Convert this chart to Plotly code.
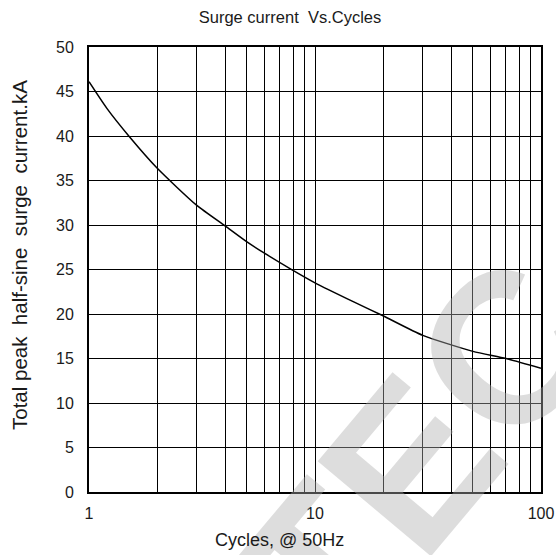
import plotly.graph_objects as go

cycles = [1, 1.2, 1.5, 2, 3, 4, 5, 6, 7.75, 10, 15, 20, 30, 50, 70, 100]
surge_ka = [46.1, 43.1, 40.0, 36.4, 32.2, 29.9, 28.1, 26.8, 25.1, 23.5, 21.3, 19.8, 17.6, 15.8, 15.0, 13.9]

x_grid_vals = [1, 2, 3, 4, 5, 6, 7, 8, 9, 10, 20, 30, 40, 50, 60, 70, 80, 90, 100]
x_grid_text = ["1", "", "", "", "", "", "", "", "", "10", "", "", "", "", "", "", "", "", "100"]
y_ticks = [0, 5, 10, 15, 20, 25, 30, 35, 40, 45, 50]

title_text = "Surge current  Vs.Cycles"
x_title = "Cycles, @ 50Hz"
y_title = "Total peak  half-sine  surge  current.kA"
watermark = "TEC"

W, H = 556, 555
L, R, T, B = 89, 15, 47, 63
pw, ph = W - L - R, H - T - B

def px(x):
    return (x - L) / pw

def py(y):
    return (H - B - y) / ph

fig = go.Figure()
fig.add_trace(go.Scatter(
    x=cycles, y=surge_ka, mode="lines",
    line=dict(color="black", width=1.5, shape="spline", smoothing=0.6),
    showlegend=False, hoverinfo="x+y",
))

font = "Liberation Sans, Arial, sans-serif"
txt = "#1a1a1a"
fig.update_layout(
    width=W, height=H,
    margin=dict(l=L, r=R, t=T, b=B, autoexpand=False),
    paper_bgcolor="white", plot_bgcolor="white",
    font=dict(family=font, size=16, color=txt),
    title=dict(text=title_text, x=290 / W, xanchor="center", xref="container",
               y=1 - 17 / H, yref="container", yanchor="middle", font=dict(size=16.5, color=txt)),
    xaxis=dict(type="log", range=[0, 2], tickvals=x_grid_vals, ticktext=x_grid_text,
               showgrid=True, gridcolor="black", gridwidth=1.3, automargin=False,
               showline=True, linecolor="black", linewidth=2, mirror=True,
               ticks="", zeroline=False, tickfont=dict(size=16, color=txt),
               ticklabelstandoff=6),
    yaxis=dict(range=[0, 50], tickvals=y_ticks,
               showgrid=True, gridcolor="black", gridwidth=1.3, automargin=False,
               showline=True, linecolor="black", linewidth=2, mirror=True,
               ticks="", zeroline=False, tickfont=dict(size=16, color=txt),
               ticklabelstandoff=10),
    annotations=[
        dict(text=watermark, xref="paper", yref="paper", x=px(418), y=py(455),
             xanchor="center", yanchor="middle", showarrow=False, textangle=-50,
             font=dict(family=font, size=215, weight="bold", color="rgba(175,175,175,0.42)")),
        dict(text=x_title, xref="paper", yref="paper", x=px(279), y=py(540),
             xanchor="center", yanchor="middle", showarrow=False,
             font=dict(family=font, size=18, color=txt)),
        dict(text=y_title, xref="paper", yref="paper", x=px(20), y=py(255),
             xanchor="center", yanchor="middle", showarrow=False, textangle=-90,
             font=dict(family=font, size=20.5, color=txt)),
    ],
)

fig.write_html("out.html", config={"displayModeBar": False},
               post_script="document.body.style.margin='0';")
